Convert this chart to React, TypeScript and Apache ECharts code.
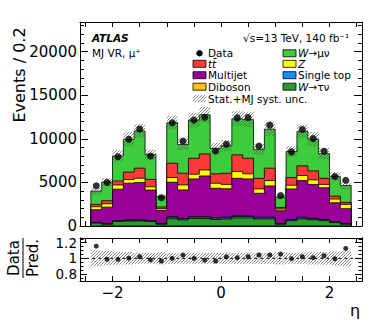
import React, { useEffect, useRef } from "react";
import * as echarts from "echarts";

// ---------------- data ----------------
const etaCenters = [-2.3, -2.1, -1.9, -1.7, -1.5, -1.3, -1.1, -0.9, -0.7, -0.5, -0.3, -0.1, 0.1, 0.3, 0.5, 0.7, 0.9, 1.1, 1.3, 1.5, 1.7, 1.9, 2.1, 2.3];
const BIN_W = 0.2;

const wtaunu = [340, 200, 520, 560, 580, 520, 200, 830, 700, 860, 860, 750, 800, 920, 920, 810, 810, 200, 600, 810, 720, 620, 390, 200];
const singleTop = [50, 30, 70, 80, 80, 70, 30, 170, 130, 150, 150, 140, 140, 170, 170, 130, 130, 30, 100, 130, 110, 90, 60, 30];
const diboson = [30, 20, 40, 50, 50, 40, 20, 70, 50, 60, 60, 60, 60, 60, 60, 60, 60, 20, 50, 60, 50, 40, 30, 20];
const multijet = [1450, 1910, 3590, 4220, 4270, 3490, 1550, 3950, 3260, 4330, 4670, 3380, 3270, 4320, 4250, 2750, 3600, 1500, 3500, 4210, 3890, 3640, 2190, 1740];
const zjets = [340, 390, 490, 420, 500, 380, 200, 540, 570, 540, 690, 570, 500, 770, 580, 500, 610, 200, 430, 580, 520, 380, 420, 490];
const ttbar = [270, 350, 460, 850, 1150, 840, 180, 1640, 1340, 1830, 1840, 1080, 1280, 1920, 1790, 1220, 1420, 180, 880, 1110, 1030, 700, 340, 230];
const wmunu = [1520, 2150, 2870, 3760, 4270, 2840, 1170, 4650, 3300, 4380, 4480, 2920, 3150, 4140, 4430, 3330, 4470, 1190, 2980, 3950, 3640, 2830, 2270, 1940];
const dataEvents = [4620, 4985, 7935, 9960, 11120, 8020, 3235, 11850, 9740, 12150, 12470, 8600, 9380, 12400, 12440, 9170, 11570, 3500, 8500, 11070, 10040, 8570, 5670, 5240];
const relUnc = [0.10, 0.09, 0.08, 0.08, 0.07, 0.07, 0.08, 0.07, 0.07, 0.07, 0.07, 0.07, 0.07, 0.07, 0.07, 0.07, 0.07, 0.08, 0.07, 0.07, 0.08, 0.08, 0.09, 0.10];

const xTicks = [-2.5, -2, -1.5, -1, -0.5, 0, 0.5, 1, 1.5, 2, 2.5];
const xLabels = [-2, 0, 2];
const ratioLabels = [0.8, 1, 1.2];
const ratioMinor = [0.75, 0.85, 0.9, 0.95, 1.05, 1.1, 1.15, 1.25];

// stacking order bottom -> top
const components = [
  { name: "W→τν", values: wtaunu, color: "#2e9a2e" },
  { name: "Single top", values: singleTop, color: "#1a8cff" },
  { name: "Diboson", values: diboson, color: "#ffc400" },
  { name: "Multijet", values: multijet, color: "#990099" },
  { name: "Z", values: zjets, color: "#ffff00" },
  { name: "tt̄", values: ttbar, color: "#ff3838" },
  { name: "W→μν", values: wmunu, color: "#3ccc3c" },
];

const FONT = "DejaVu Sans";

function hatchLines(x0: number, x1: number, yTop: number, yBot: number, step: number, style: any) {
  const out: any[] = [];
  const cMin = x0 + yTop;
  const cMax = x1 + yBot;
  for (let k = Math.ceil(cMin / step); k * step <= cMax; k++) {
    const c = k * step;
    const xa = Math.max(x0, c - yBot);
    const xb = Math.min(x1, c - yTop);
    if (xb <= xa) continue;
    out.push({ type: "line", shape: { x1: xa, y1: c - xa, x2: xb, y2: c - xb }, style });
  }
  return out;
}

export default function App() {
  const ref = useRef<HTMLDivElement>(null);
  useEffect(() => {
    if (!ref.current) return;
    const chart = echarts.init(ref.current, null, { renderer: "svg" });

    // cumulative stacks
    const cum: number[][] = [];
    let run = etaCenters.map(() => 0);
    components.forEach((c) => {
      run = run.map((v, i) => v + c.values[i]);
      cum.push(run.slice());
    });
    const total = cum[cum.length - 1];

    // draw from the top-most cumulative layer down so lower layers cover upper ones
    const histSeries = components
      .map((c, k) => ({
        type: "custom",
        xAxisIndex: 0,
        yAxisIndex: 0,
        z: 2,
        silent: true,
        data: [[0, 0]],
        renderItem: (params: any, api: any) => {
          const top = cum[k];
          const pts: number[][] = [];
          pts.push(api.coord([etaCenters[0] - BIN_W / 2, 0]));
          etaCenters.forEach((ec, i) => {
            pts.push(api.coord([ec - BIN_W / 2, top[i]]));
            pts.push(api.coord([ec + BIN_W / 2, top[i]]));
          });
          pts.push(api.coord([etaCenters[etaCenters.length - 1] + BIN_W / 2, 0]));
          return {
            type: "polygon",
            shape: { points: pts },
            style: { fill: c.color, stroke: "#000", lineWidth: 0.8 },
          };
        },
      }))
      .reverse();

    const hatchStyle = { stroke: "#555", lineWidth: 0.7 };

    const mainBand = {
      type: "custom",
      xAxisIndex: 0,
      yAxisIndex: 0,
      z: 5,
      silent: true,
      data: etaCenters.map((c, i) => [c, total[i]]),
      renderItem: (params: any, api: any) => {
        const i = params.dataIndex;
        const a = api.coord([etaCenters[i] - BIN_W / 2, total[i] * (1 + relUnc[i])]);
        const b = api.coord([etaCenters[i] + BIN_W / 2, total[i] * (1 - relUnc[i])]);
        return { type: "group", children: hatchLines(a[0], b[0], a[1], b[1], 3, hatchStyle) };
      },
    };

    const ratioBand = {
      type: "custom",
      xAxisIndex: 2,
      yAxisIndex: 2,
      z: 5,
      silent: true,
      data: etaCenters.map((c) => [c, 1]),
      renderItem: (params: any, api: any) => {
        const i = params.dataIndex;
        const a = api.coord([etaCenters[i] - BIN_W / 2, 1 + relUnc[i]]);
        const b = api.coord([etaCenters[i] + BIN_W / 2, 1 - relUnc[i]]);
        return { type: "group", children: hatchLines(a[0], b[0], a[1], b[1], 3, hatchStyle) };
      },
    };

    const axisLine = { show: true, onZero: false, lineStyle: { color: "#000", width: 1 } };
    const xBase = (gridIndex: number, position: string, labels: boolean) => ({
      type: "value",
      gridIndex,
      position,
      min: -2.6,
      max: 2.6,
      axisLine,
      splitLine: { show: false },
      axisTick: { show: true, inside: true, length: 5, customValues: xTicks, lineStyle: { color: "#000" } },
      axisLabel: labels
        ? {
            show: true,
            customValues: xLabels,
            formatter: (v: number) => (v < 0 ? "\u2212" + Math.abs(v) : String(v)),
            fontFamily: FONT,
            fontSize: 15,
            color: "#000",
            margin: 4,
          }
        : { show: false },
    });

    const yMain = (position: string, labels: boolean) => ({
      type: "value",
      gridIndex: 0,
      position,
      min: 0,
      max: 23400,
      interval: 5000,
      axisLine,
      splitLine: { show: false },
      axisTick: { show: true, inside: true, length: 8, lineStyle: { color: "#000" } },
      minorTick: { show: true, splitNumber: 5, length: 4, lineStyle: { color: "#000" } },
      minorSplitLine: { show: false },
      axisLabel: labels
        ? { show: true, formatter: (v: number) => String(v), fontFamily: FONT, fontSize: 15, color: "#000", margin: 3, showMaxLabel: false }
        : { show: false },
    });

    const yRatio = (position: string, labels: boolean, values: number[], len: number) => ({
      type: "value",
      gridIndex: 1,
      position,
      min: 0.71,
      max: 1.26,
      axisLine,
      splitLine: { show: false },
      axisTick: { show: true, inside: true, length: len, customValues: values, lineStyle: { color: "#000" } },
      axisLabel: labels
        ? {
            show: true,
            customValues: ratioLabels,
            formatter: (v: number) => (Math.abs(v - 1) < 1e-9 ? "1" : v.toFixed(1)),
            fontFamily: FONT,
            fontSize: 13.5,
            lineHeight: 13,
            color: "#000",
            margin: 3,
          }
        : { show: false },
    });

    // legend graphics
    const g: any[] = [];
    const txt = (x: number, y: number, text: string, extra: any = {}) => ({
      type: "text",
      x,
      y,
      style: { text, fontFamily: FONT, fontSize: 10.5, fill: "#000", textVerticalAlign: "middle", ...extra },
    });
    g.push(txt(92, 37.5, "ATLAS", { fontWeight: "bold", fontStyle: "italic", fontSize: 10.5 }));
    g.push(txt(243, 37.5, "√s=13 TeV, 140 fb⁻¹"));
    g.push(txt(92, 53.3, "MJ VR, μ⁺"));

    const rowY = [53.3, 63.8, 75.2, 86.7, 98.5];
    const box = (x: number, y: number, color: string) => ({
      type: "rect",
      shape: { x, y: y - 3.5, width: 13, height: 7 },
      style: { fill: color, stroke: "#000", lineWidth: 0.8 },
    });
    const rich = { i: { fontStyle: "italic", fontFamily: FONT, fontSize: 10.5 } };
    // col 1
    g.push({ type: "circle", shape: { cx: 199.5, cy: rowY[0], r: 3.2 }, style: { fill: "#000" } });
    g.push(txt(208, rowY[0], "Data"));
    g.push(box(193, rowY[1], components[5].color));
    g.push(txt(208, rowY[1], "{i|tt̄}", { rich }));
    g.push(box(193, rowY[2], components[3].color));
    g.push(txt(208, rowY[2], "Multijet"));
    g.push(box(193, rowY[3], components[2].color));
    g.push(txt(208, rowY[3], "Diboson"));
    g.push(...hatchLines(193, 206, rowY[4] - 3.5, rowY[4] + 3.5, 3, hatchStyle));
    g.push(txt(208, rowY[4], "Stat.+MJ syst. unc."));
    // col 2
    g.push(box(283, rowY[0], components[6].color));
    g.push(txt(298, rowY[0], "{i|W}→μν", { rich }));
    g.push(box(283, rowY[1], components[4].color));
    g.push(txt(298, rowY[1], "{i|Z}", { rich }));
    g.push(box(283, rowY[2], components[1].color));
    g.push(txt(298, rowY[2], "Single top"));
    g.push(box(283, rowY[3], components[0].color));
    g.push(txt(298, rowY[3], "{i|W}→τν", { rich }));

    // axis titles
    g.push({
      type: "text",
      x: 19,
      y: 75,
      rotation: Math.PI / 2,
      style: { text: "Events / 0.2", fontFamily: FONT, fontSize: 16, fill: "#000", align: "center", verticalAlign: "middle" },
    });
    g.push({
      type: "text",
      x: 14,
      y: 258,
      rotation: Math.PI / 2,
      style: { text: "Data", fontFamily: FONT, fontSize: 15, fill: "#000", align: "center", verticalAlign: "middle" },
    });
    g.push({ type: "line", shape: { x1: 23, y1: 238, x2: 23, y2: 278 }, style: { stroke: "#000", lineWidth: 1 } });
    g.push({
      type: "text",
      x: 33,
      y: 258,
      rotation: Math.PI / 2,
      style: { text: "Pred.", fontFamily: FONT, fontSize: 15, fill: "#000", align: "center", verticalAlign: "middle" },
    });
    g.push({
      type: "text",
      x: 355,
      y: 310,
      style: { text: "η", fontFamily: FONT, fontSize: 16, fill: "#000", align: "center", verticalAlign: "middle" },
    });

    const option: any = {
      animation: false,
      backgroundColor: "#fff",
      grid: [
        { left: 80, top: 22, width: 282, height: 204, containLabel: false },
        { left: 80, top: 238, width: 282, height: 43, containLabel: false },
      ],
      xAxis: [xBase(0, "bottom", false), xBase(0, "top", false), xBase(1, "bottom", true), xBase(1, "top", false)],
      yAxis: [
        yMain("left", true),
        yMain("right", false),
        yRatio("left", true, ratioLabels, 7),
        yRatio("right", false, ratioLabels, 7),
        yRatio("left", false, ratioMinor, 3.5),
        yRatio("right", false, ratioMinor, 3.5),
      ],
      graphic: { elements: g },
      series: [
        ...histSeries,
        mainBand,
        {
          type: "scatter",
          xAxisIndex: 0,
          yAxisIndex: 0,
          z: 6,
          symbol: "circle",
          symbolSize: 7,
          itemStyle: { color: "#000" },
          data: etaCenters.map((c, i) => [c, dataEvents[i]]),
        },
        ratioBand,
        {
          type: "line",
          xAxisIndex: 2,
          yAxisIndex: 2,
          z: 4,
          symbol: "none",
          lineStyle: { color: "#000", width: 1, type: [3, 3] },
          data: [
            [-2.6, 1],
            [2.6, 1],
          ],
        },
        {
          type: "scatter",
          xAxisIndex: 2,
          yAxisIndex: 2,
          z: 6,
          symbol: "circle",
          symbolSize: 5,
          itemStyle: { color: "#000" },
          data: etaCenters.map((c, i) => [c, dataEvents[i] / total[i]]),
        },
      ],
    };
    chart.setOption(option);
    return () => chart.dispose();
  }, []);

  return <div ref={ref} style={{ position: "absolute", left: 0, top: 0, width: 382, height: 323, background: "#fff" }} />;
}
